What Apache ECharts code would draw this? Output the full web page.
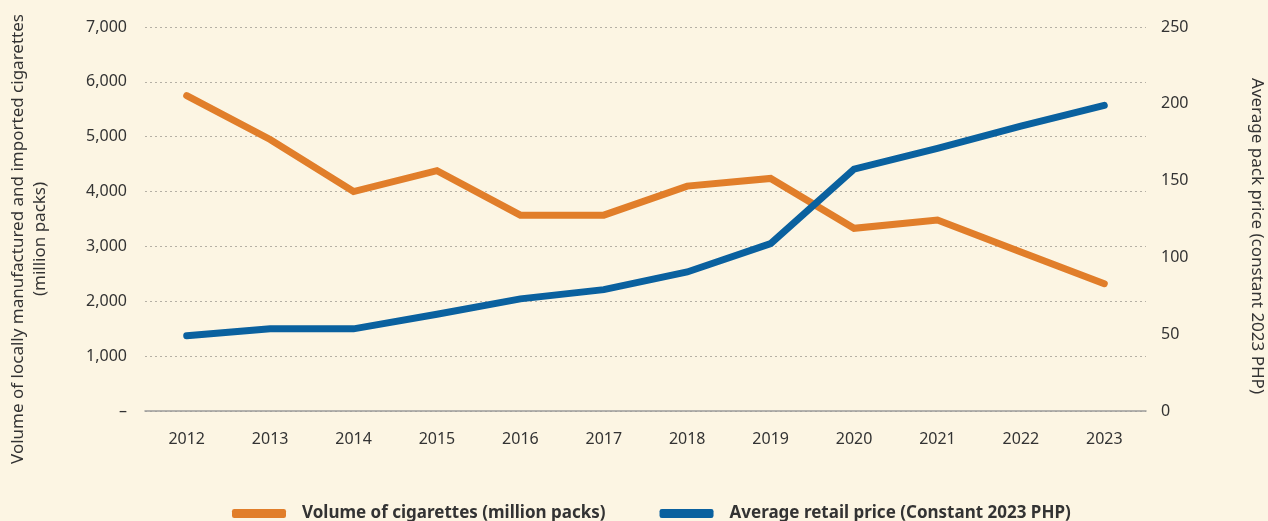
<!DOCTYPE html>
<html>
<head>
<meta charset="utf-8">
<script src="https://cdn.jsdelivr.net/npm/echarts@6/dist/echarts.min.js"></script>
<style>
  html, body { margin: 0; padding: 0; background: #FCF5E3; }
  #chart { width: 1268px; height: 521px; }
</style>
</head>
<body>
<div id="chart"></div>
<script>
// Years on the category axis
const years = ['2012', '2013', '2014', '2015', '2016', '2017', '2018', '2019', '2020', '2021', '2022', '2023'];
// Volume of locally manufactured and imported cigarettes (million packs)
const volume = [5750, 4950, 4000, 4380, 3570, 3570, 4100, 4240, 3330, 3480, 2900, 2320];
// Average retail pack price (constant 2023 PHP)
const price = [49, 53.5, 53.5, 63, 73, 79, 90.5, 109, 157.5, 171, 185.5, 199];

const seriesNames = ['Volume of cigarettes (million packs)', 'Average retail price (Constant 2023 PHP)'];
const leftAxisName = 'Volume of locally manufactured and imported cigarettes\n(million packs)';
const rightAxisName = 'Average pack price (constant 2023 PHP)';

const ORANGE = '#E17E2A';
const BLUE = '#0A619F';
const TEXT = '#333333';
const FONT = 'Noto Sans';

const chart = echarts.init(document.getElementById('chart'), null, { renderer: 'canvas' });

chart.setOption({
  backgroundColor: '#FCF5E3',
  animation: false,
  textStyle: { fontFamily: FONT, color: TEXT },
  grid: {
    left: 145, right: 122, top: 27, bottom: 110,
    containLabel: false,
    outerBoundsMode: 'none'
  },
  legend: {
    bottom: -6,
    left: 227,
    itemWidth: 54,
    itemHeight: 9,
    itemGap: 54,
    icon: 'roundRect',
    textStyle: { fontFamily: FONT, fontWeight: 'bold', fontSize: 17, color: TEXT, padding: [0, 0, 0, 11] },
    data: seriesNames
  },
  xAxis: {
    type: 'category',
    data: years,
    boundaryGap: true,
    axisLine: { lineStyle: { color: '#9A9A9A', width: 1.5 } },
    axisTick: { show: false },
    axisLabel: { color: TEXT, fontSize: 16, margin: 20, fontFamily: FONT }
  },
  yAxis: [
    {
      type: 'value',
      min: 0,
      max: 7000,
      interval: 1000,
      position: 'left',
      name: leftAxisName,
      nameLocation: 'middle',
      nameGap: 94,
      nameRotate: 90,
      nameTextStyle: { color: TEXT, fontSize: 17, lineHeight: 22, fontFamily: FONT, padding: [0, 40, 0, 0] },
      axisLine: { show: false },
      axisTick: { show: false },
      axisLabel: {
        color: TEXT, fontSize: 16, margin: 18, fontFamily: FONT,
        formatter: v => v === 0 ? '–' : v.toLocaleString('en-US')
      },
      splitLine: { lineStyle: { color: '#B5B0A5', type: [2, 3], width: 1 } }
    },
    {
      type: 'value',
      min: 0,
      max: 250,
      interval: 50,
      position: 'right',
      name: rightAxisName,
      nameLocation: 'middle',
      nameGap: 102,
      nameRotate: -90,
      nameTextStyle: { color: TEXT, fontSize: 17, fontFamily: FONT, padding: [0, 0, 0, 34] },
      axisLine: { show: false },
      axisTick: { show: false },
      axisLabel: { color: TEXT, fontSize: 16, margin: 15, fontFamily: FONT },
      splitLine: { show: false }
    }
  ],
  series: [
    {
      name: seriesNames[0],
      type: 'line',
      yAxisIndex: 0,
      data: volume,
      symbol: 'none',
      lineStyle: { color: ORANGE, width: 7, cap: 'round', join: 'miter' },
      itemStyle: { color: ORANGE }
    },
    {
      name: seriesNames[1],
      type: 'line',
      yAxisIndex: 1,
      data: price,
      symbol: 'none',
      lineStyle: { color: BLUE, width: 7, cap: 'round', join: 'miter' },
      itemStyle: { color: BLUE }
    }
  ]
});
</script>
</body>
</html>
